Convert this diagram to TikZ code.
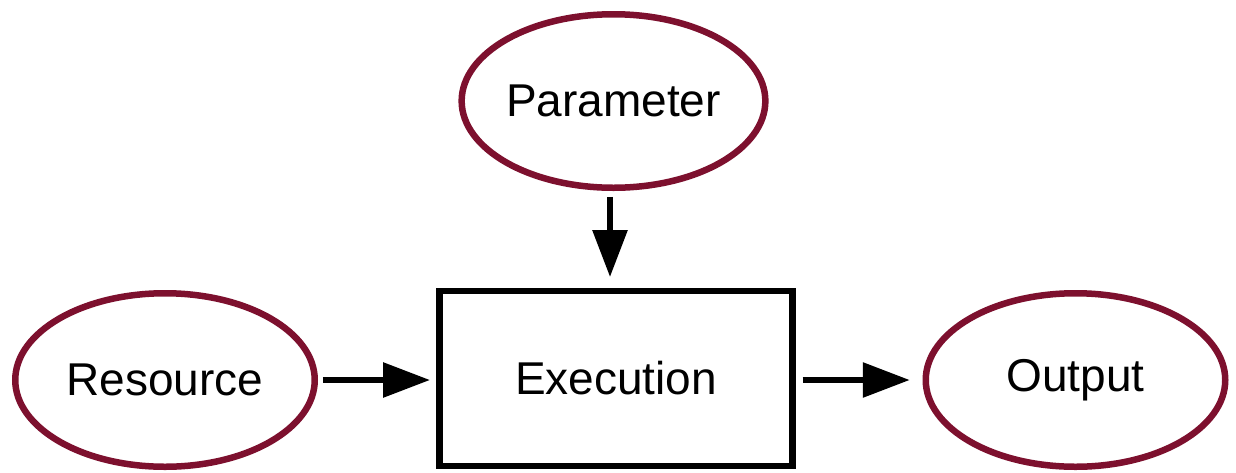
\documentclass[tikz,border=0pt]{standalone}
\usepackage{fontspec}
\setmainfont{Liberation Sans}
\usetikzlibrary{shapes.geometric,arrows.meta}
\definecolor{burg}{RGB}{125,16,46}
\tikzset{
  oval/.style={ellipse, draw=burg, line width=6.5pt, minimum width=299.5pt, minimum height=173.5pt, inner sep=0pt, outer sep=0pt, font=\fontsize{46pt}{50pt}\selectfont},
  procbox/.style={rectangle, draw=black, line width=6.5pt, minimum width=353pt, minimum height=175pt, inner sep=0pt, outer sep=0pt, font=\fontsize{46pt}{50pt}\selectfont},
  arr/.style={line width=6pt, -{Triangle[length=47pt,width=34pt]}}
}
\begin{document}
\begin{tikzpicture}[x=1pt,y=-1pt]
\useasboundingbox (0,0) rectangle (1236,472);
\node[oval] (par) at (613.5,101) {Parameter};
\node[oval] (res) at (165,380) {Resource};
\node[oval] (out) at (1075.5,380) {Output};
\node[procbox] (exe) at (616,378.5) {Execution};
\draw[arr, shorten <=8pt, shorten >=9.5pt] (res.east) -- (res.east -| exe.west);
\draw[arr, shorten <=10pt, shorten >=16pt] (out.west -| exe.east) -- (out.west);
\draw[arr, shorten <=9pt, shorten >=14pt] ([xshift=-3.5pt]par.south) -- ([xshift=-3.5pt]par.south |- exe.north);
\end{tikzpicture}
\end{document}
